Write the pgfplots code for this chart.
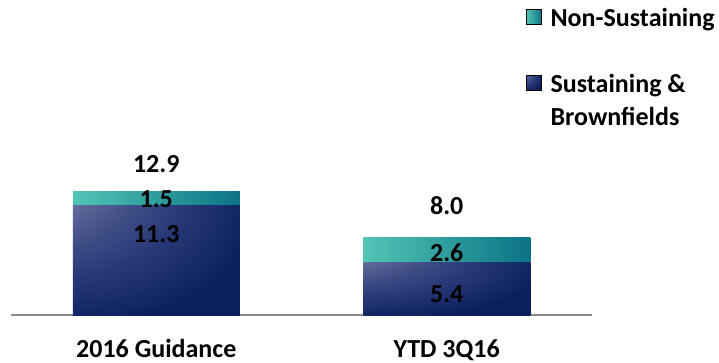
\documentclass[border=0pt]{standalone}
\usepackage{pgfplots}
\pgfplotsset{compat=1.18}
\usepackage{fontspec}
\setmainfont{Carlito}
\definecolor{navyD}{HTML}{0B1F5E}
\definecolor{navyM3}{HTML}{2A3A78}
\definecolor{navyM2}{HTML}{3E4C85}
\definecolor{navyM1}{HTML}{7A82AA}
\definecolor{navyL}{HTML}{A3A8C6}
\definecolor{tealL}{HTML}{52C5B5}
\definecolor{tealR}{HTML}{0C7386}
\definecolor{axgray}{HTML}{8C8C8C}
\pgfdeclareradialshading{navyshade}{\pgfpoint{-50bp}{50bp}}{color(0bp)=(navyL); color(14bp)=(navyM1); color(30bp)=(navyM2); color(38bp)=(navyM3); color(53bp)=(navyD); color(100bp)=(navyD)}
\newcommand\lbl{\fontsize{26}{31}\selectfont\bfseries}
\newcommand\ls{\rule[-4pt]{0pt}{24pt}}
\pgfplotsset{
  common/.style={
    at={(11pt,47pt)}, anchor=south west,
    scale only axis, width=581pt, height=270.2pt,
    xmin=-0.5, xmax=1.5, ymin=0, ymax=28,
    ybar stacked, bar width=167pt, clip=false,
  },
  navybar/.style={ybar stacked, draw=none, shade, shading=navyshade},
  tealbar/.style={ybar stacked, draw=none, left color=tealL, right color=tealR},
}
\begin{document}
\begin{tikzpicture}
\path[use as bounding box] (0,0) rectangle (719pt,362pt);
% category: 2016 Guidance
\begin{axis}[common,
  axis x line=bottom, axis y line=none,
  x axis line style={-, draw=axgray, line width=2pt},
  xtick={0,1}, xticklabels={2016 Guidance, YTD 3Q16},
  major tick length=0pt,
  xticklabel style={font=\lbl, anchor=base, inner sep=0pt, yshift=-42pt},
  legend style={at={(rel axis cs:0.8864,1.1504)}, anchor=north west,
    draw=none, fill=none, inner sep=0pt, font=\lbl,
    row sep=7.5pt, column sep=7pt,
    cells={anchor=west, inner sep=0pt}},
  legend image code/.code={\fill[#1] (0pt,-7.5pt) rectangle (15pt,7.5pt);},
]
\addlegendimage{left color=tealL, right color=tealR}
\addlegendentry{\ls Non-Sustaining}
\addlegendimage{empty legend}
\addlegendentry{\ls}
\addlegendimage{shade, shading=navyshade}
\addlegendentry{\ls Sustaining \&}
\addlegendimage{empty legend}
\addlegendentry{\ls Brownfields}
\addplot[navybar] coordinates {(0,11.3)};
\addplot[tealbar] coordinates {(0,1.5)};
\end{axis}
% category: YTD 3Q16
\begin{axis}[common, axis lines=none]
\addplot[navybar] coordinates {(1,5.4)};
\addplot[tealbar] coordinates {(1,2.6)};
\end{axis}
% value labels
\begin{axis}[common, axis lines=none]
\node[font=\lbl] at (axis cs:0,15.65) {12.9};
\node[font=\lbl] at (axis cs:0,12.02) {1.5};
\node[font=\lbl] at (axis cs:0,8.39) {11.3};
\node[font=\lbl] at (axis cs:1,11.3) {8.0};
\node[font=\lbl] at (axis cs:1,6.48) {2.6};
\node[font=\lbl] at (axis cs:1,2.12) {5.4};
\end{axis}
\end{tikzpicture}
\end{document}
